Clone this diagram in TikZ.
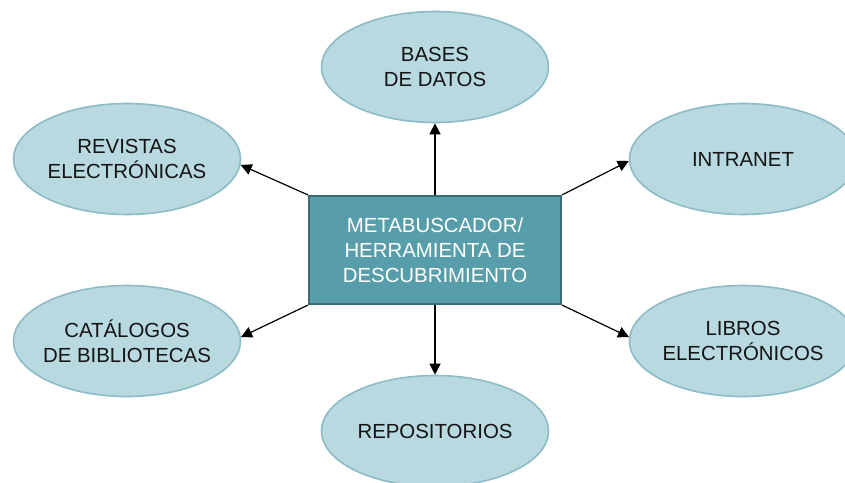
\documentclass[tikz,border=0pt]{standalone}
\usepackage{fontspec}
\setmainfont{Liberation Sans}
\usetikzlibrary{shapes.geometric,arrows.meta}
\definecolor{ellfill}{RGB}{183,217,223}
\definecolor{elldraw}{RGB}{140,188,198}
\definecolor{boxfill}{RGB}{88,158,170}
\definecolor{boxdraw}{RGB}{58,108,118}
\definecolor{txt}{RGB}{20,20,20}
\tikzset{
  oval/.style={ellipse, fill=ellfill, draw=elldraw, line width=1.6pt,
    minimum width=227pt, minimum height=111pt, inner xsep=-30pt, inner ysep=0pt,
    align=center, text=txt, font=\fontsize{20.4pt}{25pt}\selectfont},
  mainbox/.style={rectangle, fill=boxfill, draw=boxdraw, line width=2.2pt,
    minimum width=252pt, minimum height=108pt, inner sep=0pt,
    align=center, text=white, font=\fontsize{20.4pt}{25pt}\selectfont},
  conn/.style={line width=1.2pt, -{Triangle[length=11pt,width=11pt]}}
}
\begin{document}
\begin{tikzpicture}[x=1pt,y=-1pt]
\clip (0,0) rectangle (845,482);
\fill[white] (0,0) rectangle (845,482);
\node[mainbox] (box) at (435,250) {METABUSCADOR/\\HERRAMIENTA DE\\DESCUBRIMIENTO};
\node[oval] (bases) at (435,67) {BASES\\DE DATOS};
\node[oval] (rev) at (127,159) {REVISTAS\\ELECTRÓNICAS};
\node[oval] (intra) at (743,159) {INTRANET};
\node[oval] (cat) at (127,341) {CATÁLOGOS\\DE BIBLIOTECAS};
\node[oval] (lib) at (743,341) {LIBROS\\ELECTRÓNICOS};
\node[oval] (repo) at (435,431) {REPOSITORIOS};
\draw[conn] (box.north) -- (bases.south);
\draw[conn] (box.south) -- (repo.north);
\draw[conn] (box.north west) -- (rev.-3);
\draw[conn] (box.north east) -- (intra.181);
\draw[conn] (box.south west) -- (cat.2);
\draw[conn] (box.south east) -- (lib.178);
\end{tikzpicture}
\end{document}
